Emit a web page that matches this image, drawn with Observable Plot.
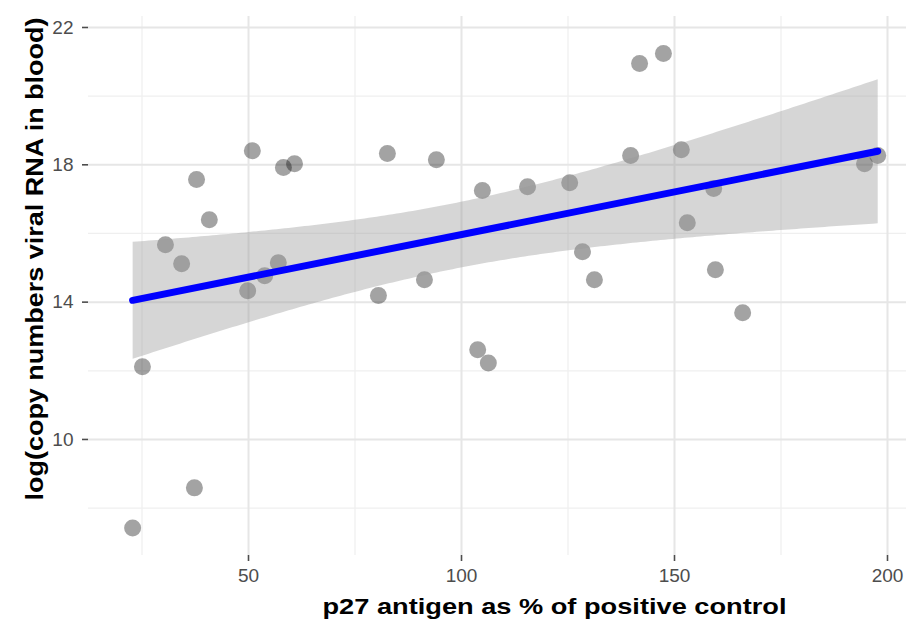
<!DOCTYPE html>
<html>
<head>
<meta charset="utf-8">
<script src="https://cdn.jsdelivr.net/npm/d3@7"></script>
<script src="https://cdn.jsdelivr.net/npm/@observablehq/plot@0.6"></script>
<style>
  html, body { margin: 0; padding: 0; background: #ffffff; }
</style>
</head>
<body>
<div id="chart"></div>
<script>
// p27 antigen (% of positive control) and log viral RNA copies
const p27 = [22.8, 25.1, 30.5, 34.3, 37.8, 37.3, 40.8, 49.8, 50.9, 53.8, 57.0, 58.2, 60.8,
             80.5, 82.6, 91.3, 94.1, 103.8, 106.3, 104.9, 115.5, 125.4, 128.4, 131.2,
             139.7, 141.8, 147.4, 151.6, 153.0, 159.2, 159.6, 166.0, 194.6, 197.7];
const logRNA = [7.42, 12.12, 15.67, 15.12, 17.57, 8.59, 16.40, 14.33, 18.41, 14.77, 15.15, 17.92, 18.03,
                14.19, 18.33, 14.65, 18.15, 12.61, 12.23, 17.25, 17.36, 17.48, 15.47, 14.65,
                18.27, 20.95, 21.24, 18.44, 16.31, 17.31, 14.94, 13.69, 18.03, 18.27];

const xMajorTicks = [50, 100, 150, 200];
const xMinorTicks = [25, 75, 125, 175];
const yMajorTicks = [10, 14, 18, 22];
const yMinorTicks = [8, 12, 16, 20];

const xTitle = "p27 antigen as % of positive control";
const yTitle = "log(copy numbers viral RNA in blood)";

const data = p27.map((x, i) => ({x, y: logRNA[i]}));

const font = "'Liberation Sans', Arial, Helvetica, sans-serif";

const svg = Plot.plot({
  width: 908,
  height: 620,
  marginTop: 16,
  marginBottom: 65,
  marginLeft: 88,
  marginRight: 2,
  style: {fontFamily: font, fontSize: "19px", background: "#ffffff", overflow: "visible"},
  x: {domain: [12.44, 204.46], label: null},
  y: {domain: [6.62, 22.32], label: null},
  marks: [
    Plot.ruleX(xMinorTicks, {stroke: "#efefef", strokeWidth: 1.2}),
    Plot.ruleY(yMinorTicks, {stroke: "#efefef", strokeWidth: 1.2}),
    Plot.ruleX(xMajorTicks, {stroke: "#e6e6e6", strokeWidth: 2}),
    Plot.ruleY(yMajorTicks, {stroke: "#e6e6e6", strokeWidth: 2}),
    Plot.dot(data, {x: "x", y: "y", r: 8.5, fill: "#000000", fillOpacity: 0.36, stroke: "none"}),
    Plot.linearRegressionY(data, {x: "x", y: "y", ci: 0.95, stroke: "#0000ff", strokeWidth: 7,
                                  fill: "#999999", fillOpacity: 0.4}),
    Plot.axisX({ticks: xMajorTicks, tickSize: 6, tickPadding: 7, fontSize: 19,
                color: "#4d4d4d", strokeWidth: 1.6, label: null}),
    Plot.axisY({ticks: yMajorTicks, tickSize: 6, tickPadding: 9, fontSize: 19,
                color: "#4d4d4d", strokeWidth: 1.6, label: null}),
    Plot.text([xTitle], {text: d => d, frameAnchor: "bottom", textAnchor: "middle", lineAnchor: "middle",
                         dy: 51, dx: 57, fontSize: 22, fontWeight: "bold", fill: "#000000"}),
    Plot.text([yTitle], {text: d => d, frameAnchor: "left", textAnchor: "middle", lineAnchor: "middle",
                         rotate: -90, dx: -53, dy: -27, fontSize: 23, fontWeight: "bold", fill: "#000000"})
  ]
});

// stretch titles to the reference's measured lengths
svg.querySelectorAll("text").forEach(t => {
  if (t.textContent === xTitle) { t.setAttribute("textLength", 464); t.setAttribute("lengthAdjust", "spacingAndGlyphs"); }
  if (t.textContent === yTitle) { t.setAttribute("textLength", 483); t.setAttribute("lengthAdjust", "spacingAndGlyphs"); }
});

document.getElementById("chart").appendChild(svg);
</script>
</body>
</html>
